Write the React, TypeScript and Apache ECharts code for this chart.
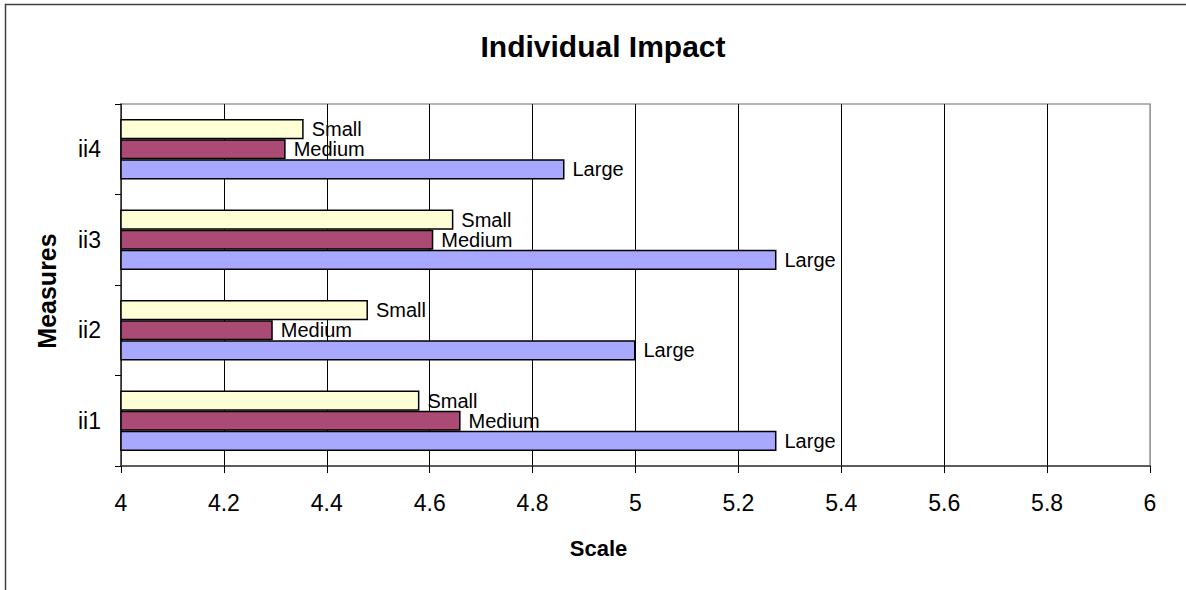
import React, { useEffect, useRef } from "react";
import * as echarts from "echarts";

const categories = ["ii1", "ii2", "ii3", "ii4"];
const seriesNames = ["Small", "Medium", "Large"];
const smallValues = [4.58, 4.48, 4.646, 4.355];
const mediumValues = [4.66, 4.295, 4.607, 4.32];
const largeValues = [5.274, 5.0, 5.274, 4.862];
const seriesColors = ["#FFFFD6", "#AA4A75", "#A8A8FF"];
const xMin = 4;
const xMax = 6;
const xStep = 0.2;
const chartTitle = "Individual Impact";
const xAxisName = "Scale";
const yAxisName = "Measures";

const FONT = "'Liberation Sans', Arial, Helvetica, sans-serif";

export default function App() {
  const ref = useRef<HTMLDivElement>(null);
  useEffect(() => {
    if (!ref.current) return;
    const chart = echarts.init(ref.current, null, { renderer: "svg" });
    const values = [smallValues, mediumValues, largeValues];
    const nTicks = Math.round((xMax - xMin) / xStep) + 1;
    const splitColors = Array.from({ length: nTicks }, (_, i) =>
      i === nTicks - 1 ? "#9a9a9a" : "#000000"
    );
    chart.setOption({
      animation: false,
      backgroundColor: "#ffffff",
      textStyle: { fontFamily: FONT },
      title: {
        text: chartTitle,
        left: 598,
        top: 26,
        textAlign: "center",
        textStyle: { fontFamily: FONT, fontSize: 30, fontWeight: "bold", color: "#000" },
      },
      grid: { left: 121, right: 36, top: 104, bottom: 124, show: true, borderColor: "#9a9a9a", borderWidth: 1.5, backgroundColor: "transparent" },
      xAxis: {
        type: "value",
        min: xMin,
        max: xMax,
        interval: xStep,
        name: xAxisName,
        nameLocation: "middle",
        nameGap: 71,
        nameTextStyle: { fontFamily: FONT, fontSize: 22, fontWeight: "bold", color: "#000", padding: [0, 74, 0, 0] },
        axisLine: { show: true, lineStyle: { color: "#404040", width: 1.5 } },
        axisTick: { show: true, length: 7, lineStyle: { color: "#000", width: 1 } },
        axisLabel: {
          margin: 25,
          fontSize: 23,
          color: "#000",
          fontFamily: FONT,
          formatter: (v: number) => String(parseFloat(v.toFixed(1))),
        },
        splitLine: { show: true, lineStyle: { color: splitColors, width: 1 } },
      },
      yAxis: {
        type: "category",
        data: categories,
        name: yAxisName,
        nameLocation: "middle",
        nameGap: 62,
        nameRotate: 90,
        nameTextStyle: { fontFamily: FONT, fontSize: 25, fontWeight: "bold", color: "#000", padding: [0, 12, 0, 0] },
        axisLine: { show: true, lineStyle: { color: "#404040", width: 1.5 } },
        axisTick: { show: true, length: 6, lineStyle: { color: "#000", width: 1 } },
        axisLabel: { margin: 20, fontSize: 23, color: "#000", fontFamily: FONT },
        splitLine: { show: false },
      },
      series: seriesNames.map((name, i) => ({
        type: "bar",
        name,
        data: values[i],
        barGap: "0%",
        barCategoryGap: "33%",
        itemStyle: { color: seriesColors[i], borderColor: "#000", borderWidth: 1.5 },
        label: {
          show: true,
          position: "right",
          distance: 8,
          formatter: name,
          fontSize: 20,
          color: "#000",
          fontFamily: FONT,
        },
      })),
      graphic: [
        {
          type: "rect",
          shape: { x: 5.5, y: 4.5, width: 1190, height: 600 },
          style: { fill: "none", stroke: "#404040", lineWidth: 1.5 },
          silent: true,
        },
      ],
    });
    return () => chart.dispose();
  }, []);
  return (
    <div
      ref={ref}
      style={{ position: "fixed", left: 0, top: 0, width: 1186, height: 590 }}
    />
  );
}
